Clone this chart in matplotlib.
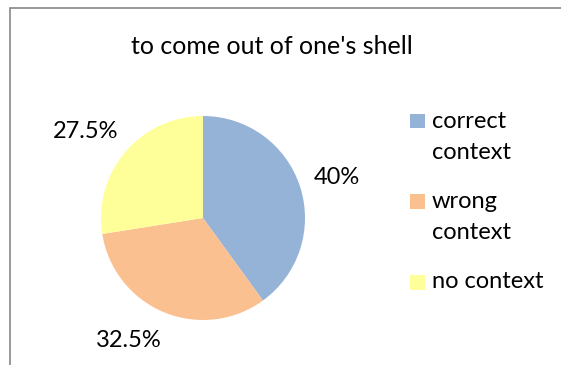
import numpy as np
import matplotlib
matplotlib.use("Agg")
import matplotlib.pyplot as plt
from matplotlib.patches import Rectangle

title = "to come out of one's shell"
categories = ["correct\ncontext", "wrong\ncontext", "no context"]
shares = [40, 32.5, 27.5]
pct_labels = ["40%", "32.5%", "27.5%"]
colors = ["#95B3D7", "#FAC090", "#FFFF99"]

plt.rcParams["font.family"] = ["Lato", "DejaVu Sans"]

W, H = 561, 365
fig = plt.figure(figsize=(W / 100, H / 100), dpi=100)

# outer chart border (cut off at right and bottom like the source)
fig.patches.append(Rectangle((9.5 / W, -0.1), 1.2, 1 - 7.5 / H + 0.1,
                             transform=fig.transFigure, fill=False,
                             edgecolor="#878787", linewidth=1.2))

# pie axes: centre ~ (203, 218) px, radius ~ 102 px
cx, cy, r = 203, 218, 102
ax = fig.add_axes([(cx - r) / W, (H - cy - r) / H, 2 * r / W, 2 * r / H])
wedges, _ = ax.pie(shares, colors=colors, startangle=90, counterclock=False,
                   radius=1, wedgeprops=dict(linewidth=0))
# excel-ish "best fit" label placement outside the pie
for w, lab in zip(wedges, pct_labels):
    ang = np.deg2rad((w.theta1 + w.theta2) / 2)
    c, s = np.cos(ang), np.sin(ang)
    ax.text(1.3 * c + np.sign(c) * 0.25 * abs(s), 1.3 * s, lab,
            ha="center", va="center", fontsize=17)
ax.set_xlim(-1, 1)
ax.set_ylim(-1, 1)
ax.set_aspect("equal")
ax.axis("off")

fig.text(272 / W, 1 - 47 / H, title, ha="center", va="center", fontsize=18)

# legend drawn by hand: square next to the first line of each entry
leg_x, leg_y, entry_step, line_step, box = 410, 121, 80.5, 31, 15
for i, (label, color) in enumerate(zip(categories, colors)):
    y = leg_y + i * entry_step
    fig.patches.append(Rectangle((leg_x / W, 1 - (y + box / 2) / H), box / W, box / H,
                                 transform=fig.transFigure, facecolor=color,
                                 edgecolor="none"))
    for j, line in enumerate(label.split("\n")):
        fig.text((leg_x + box + 7) / W, 1 - (y + j * line_step) / H, line,
                 ha="left", va="center", fontsize=17)

fig.savefig("out.png", dpi=100)
